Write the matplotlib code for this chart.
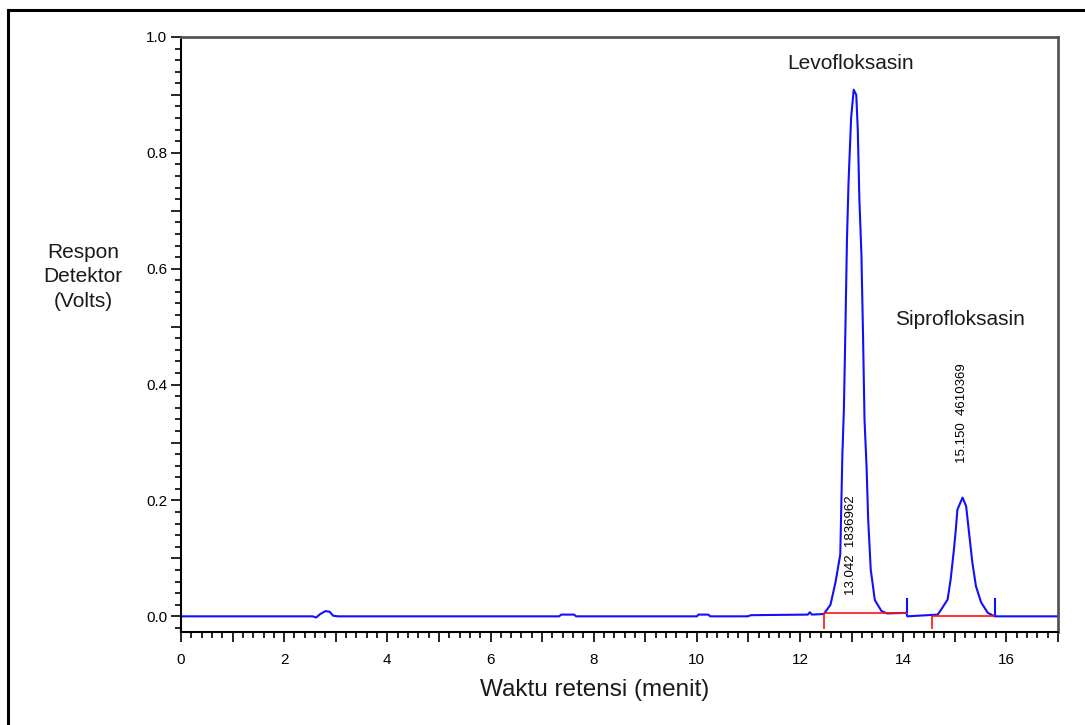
import matplotlib
matplotlib.use('Agg')
import matplotlib.pyplot as plt
from matplotlib.lines import Line2D
from matplotlib.ticker import MultipleLocator, FuncFormatter

plt.rcParams['font.family'] = ['Liberation Sans', 'DejaVu Sans']

# detector trace (minutes, volts)
trace_time = [0.0, 2.55, 2.62, 2.70, 2.80, 2.88, 2.95, 3.05,
              7.33, 7.37, 7.62, 7.66, 10.00, 10.03, 10.22, 10.26,
              10.98, 11.05, 12.15, 12.19, 12.23, 12.46,
              # levofloksasin
              12.59, 12.69, 12.78, 12.82, 12.85, 12.88, 12.91, 12.94, 12.99,
              13.04, 13.09, 13.12, 13.15, 13.19, 13.22, 13.25, 13.29, 13.32,
              13.37, 13.45, 13.58, 13.69, 14.06, 14.08,
              # siprofloksasin
              14.67, 14.76, 14.86, 14.92, 14.98, 15.02, 15.05, 15.15, 15.22,
              15.28, 15.34, 15.41, 15.51, 15.64, 15.77, 17.0]
trace_volts = [0.0, 0.0, -0.002, 0.004, 0.009, 0.008, 0.001, 0.0,
               0.0, 0.003, 0.003, 0.0, 0.0, 0.003, 0.003, 0.0,
               0.0, 0.002, 0.003, 0.007, 0.003, 0.004,
               0.020, 0.060, 0.107, 0.277, 0.358, 0.499, 0.652, 0.749, 0.860,
               0.909, 0.900, 0.838, 0.720, 0.624, 0.490, 0.339, 0.257, 0.169,
               0.081, 0.028, 0.009, 0.005, 0.006, 0.0,
               0.003, 0.015, 0.029, 0.064, 0.113, 0.150, 0.184, 0.205, 0.190,
               0.141, 0.093, 0.052, 0.024, 0.006, 0.0, 0.0]

# integration marks
peak_end_time = [14.07, 15.77]
peak_end_low = [0.006, 0.0]
peak_end_high = [0.032, 0.032]
base_start = [12.47, 14.55]
base_end = [14.07, 15.77]
base_level = [0.005, 0.0]
base_drop = -0.022

peak_names = ['Levofloksasin', 'Siprofloksasin']
name_x = [12.97, 15.10]
name_y = [0.955, 0.512]
peak_info = ['13.042  1836962', '15.150  4610369']
info_x = [12.98, 15.13]
info_y = [0.122, 0.35]

fig = plt.figure(figsize=(10.85, 7.25), dpi=100)
ax = fig.add_axes([0.1668, 0.1283, 0.8083, 0.8207])

ax.plot(trace_time, trace_volts, color='#1010ff', lw=1.5)
ax.vlines(peak_end_time, peak_end_low, peak_end_high, color='#1010ff', lw=1.5)
ax.hlines(base_level, base_start, base_end, color='#ff1010', lw=1.2)
ax.vlines(base_start, base_drop, base_level, color='#ff1010', lw=1.2)

for name, x, y in zip(peak_names, name_x, name_y):
    ax.text(x, y, name, fontsize=15, color='#1a1a1a', ha='center', va='center')
for info, x, y in zip(peak_info, info_x, info_y):
    ax.text(x, y, info, fontsize=9.5, rotation=90, ha='center', va='center')

ax.set_xlim(0, 17)
ax.set_ylim(-0.027, 1.0)

ax.xaxis.set_major_locator(MultipleLocator(1))
ax.xaxis.set_minor_locator(MultipleLocator(0.2))
ax.yaxis.set_major_locator(MultipleLocator(0.1))
ax.yaxis.set_minor_locator(MultipleLocator(0.02))
ax.xaxis.set_major_formatter(FuncFormatter(
    lambda v, p: '%d' % round(v) if round(v) % 2 == 0 else ''))
ax.yaxis.set_major_formatter(FuncFormatter(
    lambda v, p: '%.1f' % v if round(v * 10) % 2 == 0 else ''))
ax.tick_params(which='major', length=7, width=1.2, labelsize=11)
ax.tick_params(which='minor', length=4, width=1.2)
ax.tick_params(axis='x', which='major', pad=8)
ax.tick_params(axis='y', which='major', pad=3)

for side in ['left', 'bottom']:
    ax.spines[side].set_linewidth(1.5)
    ax.spines[side].set_color('black')
for side in ['top', 'right']:
    ax.spines[side].set_linewidth(2)
    ax.spines[side].set_color('#555555')

fig.text(0.0765, 0.618, 'Respon\nDetektor\n(Volts)', fontsize=15,
         color='#1a1a1a', ha='center', va='center', linespacing=1.35)
fig.text(0.548, 0.048, 'Waktu retensi (menit)', fontsize=17.5,
         color='#1a1a1a', ha='center', va='center')

# outer frame of the figure
fig.add_artist(Line2D([8 / 1085, 8 / 1085], [0, 1 - 10 / 725],
                      transform=fig.transFigure, color='black', lw=2.2))
fig.add_artist(Line2D([8 / 1085, 1], [1 - 10 / 725, 1 - 10 / 725],
                      transform=fig.transFigure, color='black', lw=2.2))

fig.savefig('out.png', dpi=100)
